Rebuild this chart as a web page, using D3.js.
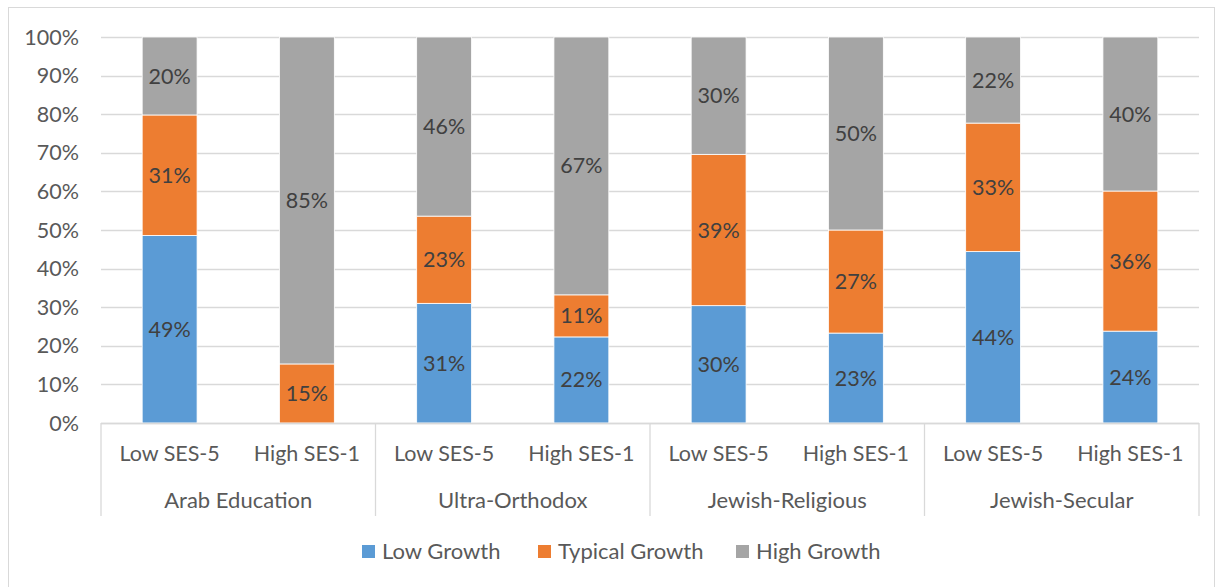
<!DOCTYPE html>
<html><head><meta charset="utf-8">
<script src="https://cdn.jsdelivr.net/npm/d3@7"></script>
<style>body{margin:0;background:#fff;} text{font-family:Lato, "Open Sans", sans-serif;}</style>
</head><body>
<svg id="c" width="1223" height="587"></svg>
<script>
const groups = ["Arab Education","Ultra-Orthodox","Jewish-Religious","Jewish-Secular"];
const subcats = ["Low SES-5","High SES-1"];
const seriesNames = ["Low Growth","Typical Growth","High Growth"];
const colors = ["#5B9BD5","#ED7D31","#A5A5A5"];
const lowGrowth     = [48.6, 0,    31.0, 22.3, 30.4, 23.3, 44.4, 23.8];
const typicalGrowth = [31.2, 15.3, 22.6, 10.9, 39.2, 26.7, 33.3, 36.3];
const highGrowth    = [20.2, 84.7, 46.4, 66.8, 30.4, 50.0, 22.3, 39.9];
const yTicks = [0,10,20,30,40,50,60,70,80,90,100];

(function(){
const svg = d3.select("#c");
svg.append("rect").attr("x",8.5).attr("y",7.5).attr("width",1206).attr("height",590).attr("fill","#fff").attr("stroke","#D9D9D9");

const pL=101,pR=1199,pT=37,pB=423;
const cats=[]; groups.forEach((g,gi)=>subcats.forEach((s,si)=>cats.push({g,s,i:gi*2+si})));
const x=d3.scaleBand().domain(cats.map(c=>c.i)).range([pL,pR]).paddingInner(0.6).paddingOuter(0.3);
const y=d3.scaleLinear().domain([0,100]).range([pB,pT]);

svg.append("g").selectAll("line").data(yTicks).join("line")
  .attr("x1",pL).attr("x2",pR).attr("y1",d=>Math.round(y(d))+0.5).attr("y2",d=>Math.round(y(d))+0.5)
  .attr("stroke","#D9D9D9").attr("stroke-width",1.3);

svg.append("g").selectAll("text").data(yTicks).join("text")
  .attr("x",79).attr("y",d=>y(d)).attr("dy","0.35em").attr("text-anchor","end")
  .attr("fill","#595959").style("font-size","21.5px").text(d=>d+"%");

const rows=cats.map((c,i)=>({i:c.i,"Low Growth":lowGrowth[i],"Typical Growth":typicalGrowth[i],"High Growth":highGrowth[i]}));
const stack=d3.stack().keys(seriesNames)(rows);
stack.forEach((layer,k)=>{
  const g=svg.append("g");
  g.selectAll("rect").data(layer).join("rect")
    .attr("x",d=>x(d.data.i)).attr("width",x.bandwidth())
    .attr("y",d=>y(d[1])).attr("height",d=>y(d[0])-y(d[1]))
    .attr("fill",colors[k]).attr("stroke","#fff").attr("stroke-width",0.8);
  g.selectAll("text").data(layer.filter(d=>d[1]-d[0]>0)).join("text")
    .attr("x",d=>x(d.data.i)+x.bandwidth()/2).attr("y",d=>y((d[0]+d[1])/2)).attr("dy","0.35em")
    .attr("text-anchor","middle").attr("fill","#404040").style("font-size","21.5px")
    .text(d=>Math.round(d[1]-d[0])+"%");
});

svg.append("line").attr("x1",pL).attr("x2",pR).attr("y1",pB+0.5).attr("y2",pB+0.5).attr("stroke","#D9D9D9").attr("stroke-width",1.5);
const gw=(pR-pL)/groups.length;
d3.range(groups.length+1).forEach(i=>{
  const xx=pL+i*gw;
  svg.append("line").attr("x1",xx).attr("x2",xx).attr("y1",pB).attr("y2",516).attr("stroke","#D9D9D9").attr("stroke-width",1.3);
});
svg.append("g").selectAll("text").data(cats).join("text")
  .attr("x",d=>x(d.i)+x.bandwidth()/2).attr("y",453).attr("dy","0.35em").attr("text-anchor","middle")
  .attr("fill","#595959").style("font-size","21.5px").text(d=>d.s);
svg.append("g").selectAll("text").data(groups).join("text")
  .attr("x",(d,i)=>pL+(i+0.5)*gw).attr("y",500).attr("dy","0.35em").attr("text-anchor","middle")
  .attr("fill","#595959").style("font-size","22px").text(d=>d);

const legX=[362,538,736];
seriesNames.forEach((s,k)=>{
  svg.append("rect").attr("x",legX[k]).attr("y",545).attr("width",13).attr("height",13).attr("fill",colors[k]);
  svg.append("text").attr("x",legX[k]+20).attr("y",551.5).attr("dy","0.35em").attr("fill","#595959").style("font-size","22px").text(s);
});
})();
</script>
</body></html>
